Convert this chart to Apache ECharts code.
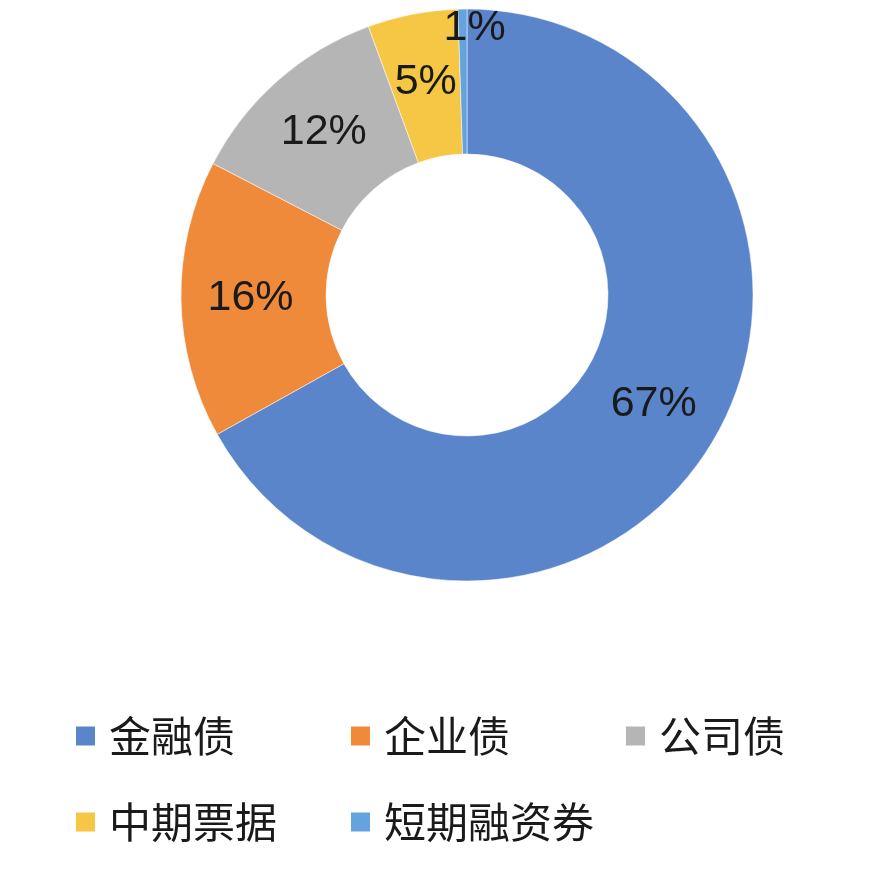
<!DOCTYPE html>
<html>
<head>
<meta charset="utf-8">
<script src="https://cdn.jsdelivr.net/npm/echarts@6/dist/echarts.min.js"></script>
<style>
  html, body { margin: 0; padding: 0; background: #fff; }
  #main { width: 872px; height: 872px; }
</style>
</head>
<body>
<div id="main"></div>
<script>
// shares of bond types (labels are rounded)
const categories = ['金融债', '企业债', '公司债', '中期票据', '短期融资券'];
const shares = [66.9, 15.7, 11.8, 5.1, 0.5];
const colors = ['#5a85cb', '#ef8a3b', '#b5b5b5', '#f5c744', '#64a3de'];

const chart = echarts.init(document.getElementById('main'));

chart.setOption({
    animation: false,
    color: colors,
    legend: {
        data: categories,
        left: 74,
        right: 0,
        top: 707,
        padding: 0,
        icon: 'rect',
        itemWidth: 21,
        itemHeight: 21,
        itemGap: 28,
        textStyle: {
            fontFamily: '"Noto Sans CJK SC", sans-serif',
            fontSize: 42,
            color: '#1a1a1a',
            width: 212,
            lineHeight: 58,
            padding: [0, 0, 0, 8]
        }
    },
    series: [{
        type: 'pie',
        center: [467, 295],
        radius: [141, 286],
        startAngle: 90,
        clockwise: true,
        data: categories.map((name, i) => ({ name: name, value: shares[i] })),
        itemStyle: { borderColor: '#fff', borderWidth: 0.5 },
        label: {
            position: 'inside',
            formatter: (p) => Math.round(p.value) + '%',
            fontFamily: '"Liberation Sans", Arial, sans-serif',
            fontSize: 43,
            color: '#1a1a1a'
        },
        labelLayout: function (params) {
            // the tiny slice label sits up at the rim, as in the original
            if (params.dataIndex === 4) return { dx: 11, dy: -50 };
        },
        emphasis: { disabled: true }
    }]
});
</script>
</body>
</html>
